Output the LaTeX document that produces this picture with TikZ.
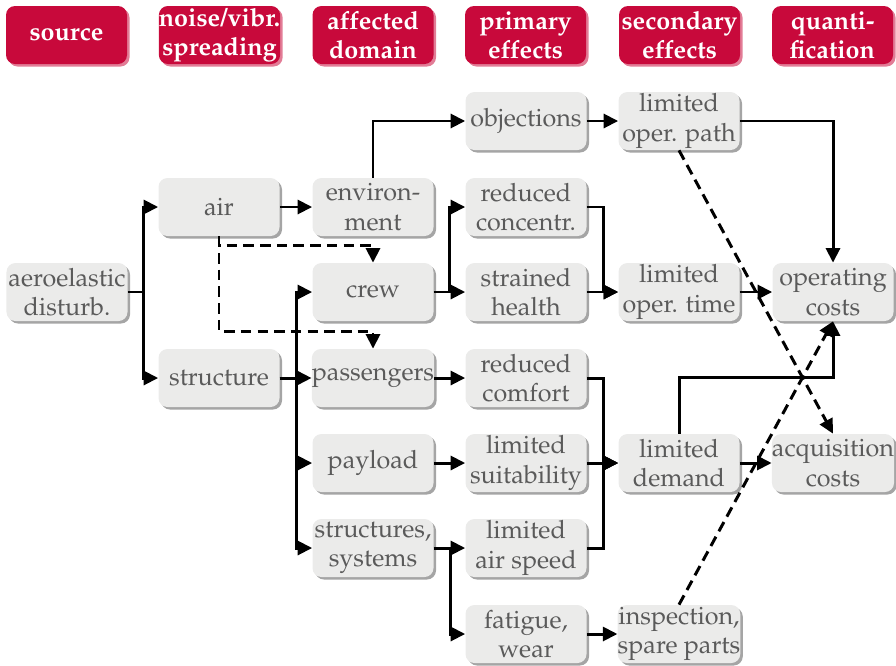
\documentclass[tikz,border=0pt]{standalone}
\usepackage[T1]{fontenc}
\usepackage{mathpazo}
\usetikzlibrary{arrows.meta,shadows}
\definecolor{headred}{HTML}{C8093B}
\definecolor{headshade}{HTML}{E27C96}
\definecolor{boxgrey}{HTML}{EBEBEA}
\definecolor{boxshade}{HTML}{A5A5A5}
\definecolor{txtgrey}{HTML}{5A5A5A}
\def\boxfont{\fontsize{14.3}{16.6}\selectfont}
\tikzset{
	head/.style={rounded corners=0.18cm, fill=headred, text=white, font=\boxfont\bfseries, align=center,
		minimum width=2.42cm, minimum height=1.16cm, inner sep=0pt,
		drop shadow={shadow xshift=0.05cm, shadow yshift=-0.05cm, fill=headshade, opacity=1}},
	blk/.style={rounded corners=0.18cm, fill=boxgrey, text=txtgrey, font=\boxfont, align=center,
		minimum width=2.42cm, minimum height=1.16cm, inner sep=0pt,
		drop shadow={shadow xshift=0.05cm, shadow yshift=-0.05cm, fill=boxshade, opacity=1}},
	arr/.style={line width=1.7pt, -{Triangle[length=2.9mm,width=2.8mm]}},
	darr/.style={arr, dash pattern=on 6pt off 3.5pt}
}

\begin{document}
\begin{tikzpicture}
				\useasboundingbox (0,0) rectangle (17.92,-13.3);
				
				\node[head] (hsrc) at (1.33,-0.70) {source};
				\node[head] (hspread) at (4.39,-0.70) {noise/vibr.\\spreading};
				\node[head] (hdomain) at (7.46,-0.70) {affected\\domain};
				\node[head] (hprim) at (10.51,-0.70) {primary\\effects};
				\node[head] (hsec) at (13.59,-0.70) {secondary\\effects};
				\node[head] (hquant) at (16.65,-0.70) {quanti-\\fication};
				
				\node[blk] (aero) at (1.34,-5.84) {aeroelastic\\disturb.};
				
				\node[blk] (air) at (4.38,-4.14) {air};
				\node[blk] (struct) at (4.38,-7.56) {structure};
				
				\node[blk] (env) at (7.46,-4.14) {environ-\\ment};
				\node[blk] (crew) at (7.46,-5.84) {crew};
				\node[blk] (pass) at (7.46,-7.56) {passengers};
				\node[blk] (payload) at (7.46,-9.26) {payload};
				\node[blk] (syst) at (7.46,-10.96) {structures,\\systems};
				
				\node[blk] (obj) at (10.52,-2.42) {objections};
				\node[blk] (rconc) at (10.52,-4.14) {reduced\\concentr.};
				\node[blk] (health) at (10.52,-5.84) {strained\\health};
				\node[blk] (rcomf) at (10.52,-7.56) {reduced\\comfort};
				\node[blk] (suit) at (10.52,-9.26) {limited\\suitability};
				\node[blk] (speed) at (10.52,-10.96) {limited\\air speed};
				\node[blk] (fatigue) at (10.52,-12.68) {fatigue,\\wear};
				
				\node[blk] (path) at (13.58,-2.42) {limited\\oper. path};
				\node[blk] (optime) at (13.58,-5.84) {limited\\oper. time};
				\node[blk] (demand) at (13.58,-9.26) {limited\\demand};
				\node[blk] (insp) at (13.58,-12.68) {inspection,\\spare parts};
				
				\node[blk] (opc) at (16.66,-5.84) {operating\\costs};
				\node[blk] (acq) at (16.66,-9.26) {acquisition\\costs};
				
				% source -> spreading
				\draw[arr] (aero.east) -- ++(0.31,0) |- (air.west);
				\draw[arr] (aero.east) -- ++(0.31,0) |- (struct.west);
				
				% spreading -> domain
				\draw[arr] (air) -- (env);
				\draw[darr] (air.south) -- ++(0,-0.18) -| (crew.north);
				\draw[darr] (air.south) -- ++(0,-1.9) -| (pass.north);
				\draw[arr] (struct) -- (pass);
				\draw[arr] (struct.east) -- ++(0.34,0) |- (crew.west);
				\draw[arr] (struct.east) -- ++(0.34,0) |- (payload.west);
				\draw[arr] (struct.east) -- ++(0.34,0) |- (syst.west);
				
				% domain -> primary effects
				\draw[arr] (env.north) |- (obj.west);
				\draw[arr] (crew.east) -- ++(0.32,0) |- (rconc.west);
				\draw[arr] (crew) -- (health);
				\draw[arr] (pass) -- (rcomf);
				\draw[arr] (payload) -- (suit);
				\draw[arr] (syst) -- (speed);
				\draw[arr] (syst.east) -- ++(0.34,0) |- (fatigue.west);
				
				% primary -> secondary effects
				\draw[arr] (obj) -- (path);
				\draw[arr] (rconc.east) -- ++(0.34,0) |- (optime.west);
				\draw[arr] (health) -- (optime);
				\draw[arr] (rcomf.east) -- ++(0.34,0) |- (demand.west);
				\draw[arr] (suit) -- (demand);
				\draw[arr] (speed.east) -- ++(0.34,0) |- (demand.west);
				\draw[arr] (fatigue) -- (insp);
				
				% secondary effects -> costs
				\draw[arr] (path.east) -| (opc.north);
				\draw[darr] (path.south) -- (acq.north);
				\draw[arr] (optime) -- (opc);
				\draw[arr] (demand) -- (acq);
				\draw[arr] (demand.north) -- ++(0,1.12) -| (opc.south);
				\draw[darr] (insp.north) -- (opc.south);
\end{tikzpicture}
\end{document}
